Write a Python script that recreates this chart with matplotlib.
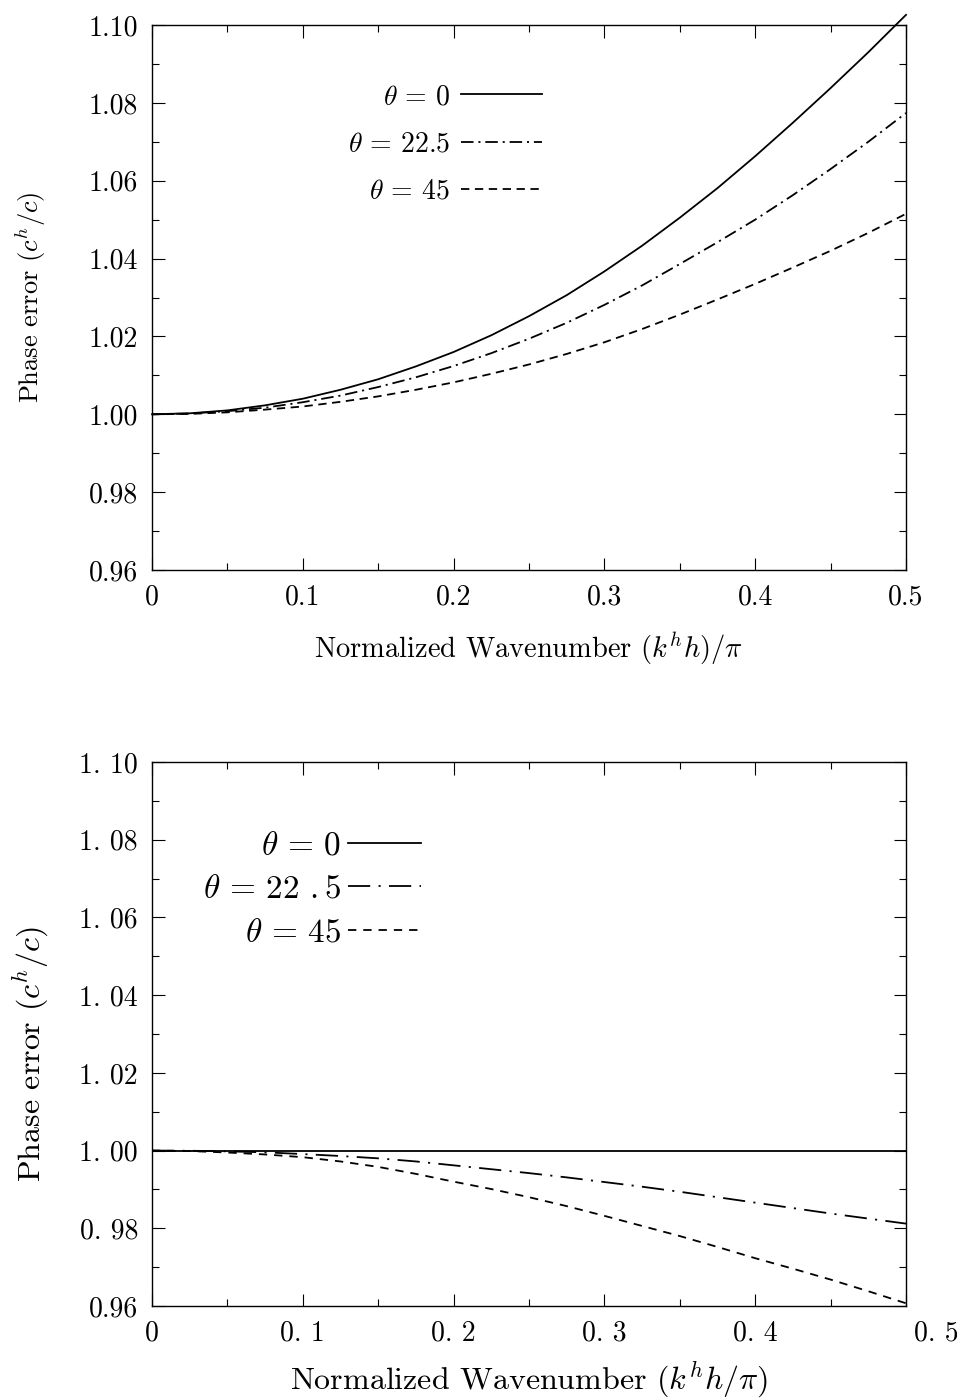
import matplotlib
matplotlib.use("Agg")
import matplotlib.pyplot as plt
from matplotlib.ticker import MultipleLocator
from matplotlib.transforms import ScaledTranslation

plt.rcParams['font.family'] = 'cmr10'
plt.rcParams['mathtext.fontset'] = 'cm'
plt.rcParams['axes.unicode_minus'] = False
plt.rcParams['lines.scale_dashes'] = False

# ---- data ----
k = [0.0, 0.025, 0.05, 0.075, 0.10, 0.125, 0.15, 0.175, 0.20, 0.225, 0.25,
     0.275, 0.30, 0.325, 0.35, 0.375, 0.40, 0.425, 0.45, 0.475, 0.50]

top_theta0 = [1.0, 1.00025, 1.0010, 1.0023, 1.0040, 1.0063, 1.0090, 1.0123, 1.0160, 1.0203, 1.0252,
              1.0306, 1.0367, 1.0433, 1.0505, 1.0581, 1.0663, 1.0749, 1.0838, 1.0930, 1.1026]
top_theta22 = [1.0, 1.0002, 1.0008, 1.0017, 1.0031, 1.0048, 1.0070, 1.0095, 1.0124, 1.0157, 1.0194,
               1.0235, 1.0281, 1.0331, 1.0386, 1.0442, 1.0500, 1.0563, 1.0630, 1.0700, 1.0774]
top_theta45 = [1.0, 1.0001, 1.0005, 1.0012, 1.0020, 1.0032, 1.0046, 1.0063, 1.0082, 1.0104, 1.0128,
               1.0155, 1.0185, 1.0219, 1.0256, 1.0295, 1.0335, 1.0377, 1.0420, 1.0466, 1.0515]

bot_theta0 = [1.0] * 21
bot_theta22 = [1.0, 0.99995, 0.9998, 0.99955, 0.9991, 0.9986, 0.9980, 0.9972, 0.9962, 0.9952, 0.9942,
               0.9931, 0.9919, 0.9907, 0.9894, 0.9880, 0.9866, 0.9852, 0.9838, 0.9825, 0.9812]
bot_theta45 = [1.0, 0.99988, 0.9995, 0.9990, 0.9983, 0.9972, 0.9958, 0.9940, 0.9920, 0.9901, 0.9880,
               0.9857, 0.9832, 0.9806, 0.9780, 0.9752, 0.9723, 0.9696, 0.9668, 0.9638, 0.9607]

x_ticks = [0, 0.1, 0.2, 0.3, 0.4, 0.5]
top_xticklabels = ["0", "0.1", "0.2", "0.3", "0.4", "0.5"]
bot_xticklabels = ["0", "0. 1", "0. 2", "0. 3", "0. 4", "0. 5"]
y_ticks = [0.96, 0.98, 1.00, 1.02, 1.04, 1.06, 1.08, 1.10]
top_yticklabels = ["0.96", "0.98", "1.00", "1.02", "1.04", "1.06", "1.08", "1.10"]
bot_yticklabels = ["0.96", "0. 98", "1. 00", "1. 02", "1. 04", "1. 06", "1. 08", "1. 10"]

top_labels = [r"$\theta\,=\,0$", r"$\theta\,=\,22.5$", r"$\theta\,=\,45$"]
bot_labels = [r"$\theta\,=\,0$", r"$\theta\,=\,22\ .5$", r"$\theta\,=\,45$"]

W, H = 957, 1400
fig = plt.figure(figsize=(W / 100, H / 100), dpi=100)

ax1 = fig.add_axes([152 / W, 1 - 570 / H, 754 / W, 545 / H])
ax2 = fig.add_axes([152 / W, 1 - 1306 / H, 754 / W, 544 / H])


def style_axes(ax, xtl, ytl, tick_fs):
    ax.set_xlim(0, 0.5)
    ax.set_ylim(0.96, 1.10)
    ax.set_xticks(x_ticks)
    ax.set_xticklabels(xtl)
    ax.set_yticks(y_ticks)
    ax.set_yticklabels(ytl)
    ax.xaxis.set_minor_locator(MultipleLocator(0.05))
    ax.yaxis.set_minor_locator(MultipleLocator(0.01))
    ax.tick_params(which='both', direction='in', top=True, right=True, width=0.8)
    ax.tick_params(which='major', length=9, labelsize=tick_fs)
    ax.tick_params(which='minor', length=5)
    ax.tick_params(axis='x', which='major', pad=10)
    ax.tick_params(axis='y', which='major', pad=10)
    for s in ax.spines.values():
        s.set_linewidth(1.0)


# ---- top panel ----
lw = 1.3
l1, = ax1.plot(k, top_theta0, color='black', lw=lw, clip_on=False)
l2, = ax1.plot(k, top_theta22, color='black', lw=lw, linestyle=(0, (9, 3.5, 1.5, 3.5)))
l3, = ax1.plot(k, top_theta45, color='black', lw=lw, linestyle=(0, (6, 4)))
style_axes(ax1, top_xticklabels, top_yticklabels, 20)
ax1.set_ylabel(r"Phase error ($c^h/c$)", fontsize=19)
ax1.yaxis.set_label_coords(-0.138, 0.5)
ax1.set_xlabel(r"Normalized Wavenumber $(k^h h)/\pi$", fontsize=20.5)
ax1.xaxis.set_label_coords(0.5, -0.11)
ax1.legend([l1, l2, l3], top_labels, loc='center right',
           bbox_to_anchor=(0.517, 0.781), frameon=False, markerfirst=False,
           alignment='right', fontsize=20, handlelength=2.9, handletextpad=0.4,
           labelspacing=0.76, borderpad=0, borderaxespad=0)

# ---- bottom panel ----
m1, = ax2.plot(k, bot_theta0, color='black', lw=lw)
m2, = ax2.plot(k, bot_theta22, color='black', lw=lw, linestyle=(0, (16, 6, 1.5, 6)))
m3, = ax2.plot(k, bot_theta45, color='black', lw=lw, linestyle=(0, (6, 5)))
style_axes(ax2, bot_xticklabels, bot_yticklabels, 20)
last = ax2.get_xticklabels()[-1]
last.set_transform(last.get_transform() + ScaledTranslation(0.30, 0, fig.dpi_scale_trans))
ax2.set_ylabel(r"Phase error ($c^h/c$)", fontsize=23)
ax2.yaxis.set_label_coords(-0.135, 0.463)
ax2.set_xlabel(r"Normalized Wavenumber ($k^h h/\pi$)", fontsize=23)
ax2.xaxis.set_label_coords(0.5, -0.097)
ax2.legend([m1, m2, m3], bot_labels, loc='center right',
           bbox_to_anchor=(0.357, 0.766), frameon=False, markerfirst=False,
           alignment='right', fontsize=24, handlelength=2.2, handletextpad=0.2,
           labelspacing=0.42, borderpad=0, borderaxespad=0)

fig.savefig("out.png", dpi=100)
